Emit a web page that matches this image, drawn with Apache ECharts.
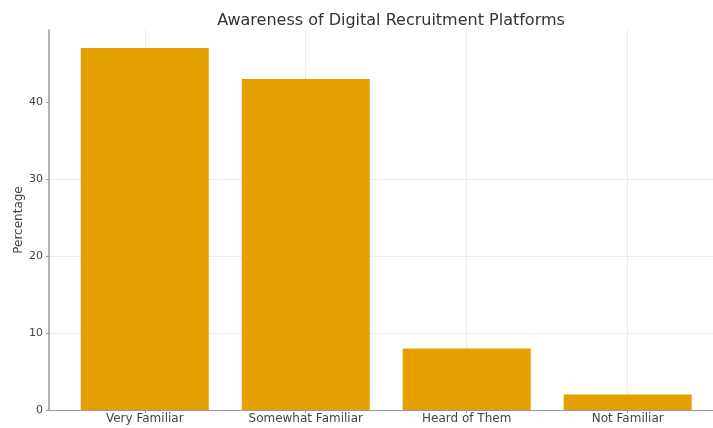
<!DOCTYPE html>
<html><head><meta charset="utf-8">
<script src="https://cdn.jsdelivr.net/npm/echarts@6/dist/echarts.min.js"></script>
<style>html,body{margin:0;padding:0;background:#fff}#c{width:713px;height:428px}</style>
</head><body><div id="c"></div>
<script>
const categories = ["Very Familiar", "Somewhat Familiar", "Heard of Them", "Not Familiar"];
const percentages = [47, 43, 8, 2];
const yTicks = [0, 10, 20, 30, 40];
const catIdx = categories.map((c, i) => i);

const chart = echarts.init(document.getElementById('c'), null, {renderer: 'canvas'});
const font = 'DejaVu Sans';
chart.setOption({
  animation: false,
  backgroundColor: '#ffffff',
  title: {
    text: 'Awareness of Digital Recruitment Platforms',
    left: 386, top: 8, textAlign: 'center',
    textStyle: {fontFamily: font, fontSize: 16, fontWeight: 'normal', color: '#333'}
  },
  grid: {left: 49, top: 30, width: 664, height: 380, containLabel: false},
  xAxis: {
    type: 'value', min: -0.595, max: 3.53,
    axisLine: {show: true, onZero: false, lineStyle: {color: '#999', width: 1}},
    axisTick: {show: true, customValues: catIdx, length: 3, lineStyle: {color: '#999'}},
    axisLabel: {customValues: catIdx, formatter: v => categories[Math.round(v)] || '',
      fontFamily: font, fontSize: 12, color: '#444', margin: 3},
    splitLine: {show: true, lineStyle: {color: '#ececec', width: 1}}
  },
  yAxis: {
    type: 'value', min: 0, max: 49.35, interval: 10,
    name: 'Percentage', nameLocation: 'middle', nameGap: 24, nameMoveOverlap: false,
    nameTextStyle: {fontFamily: font, fontSize: 12, color: '#444'},
    axisLine: {show: true, onZero: false, lineStyle: {color: '#999', width: 1.5}},
    axisTick: {show: true, customValues: yTicks, length: 3, lineStyle: {color: '#999'}},
    axisLabel: {customValues: yTicks, fontFamily: font, fontSize: 11, color: '#444', margin: 6},
    splitLine: {show: true, showMaxLine: false, showMinLine: false, lineStyle: {color: '#ececec', width: 1}}
  },
  series: [{
    type: 'bar',
    data: percentages.map((v, i) => [catIdx[i], v]),
    barWidth: 128,
    itemStyle: {color: '#E69F00'}
  }]
});
</script></body></html>
